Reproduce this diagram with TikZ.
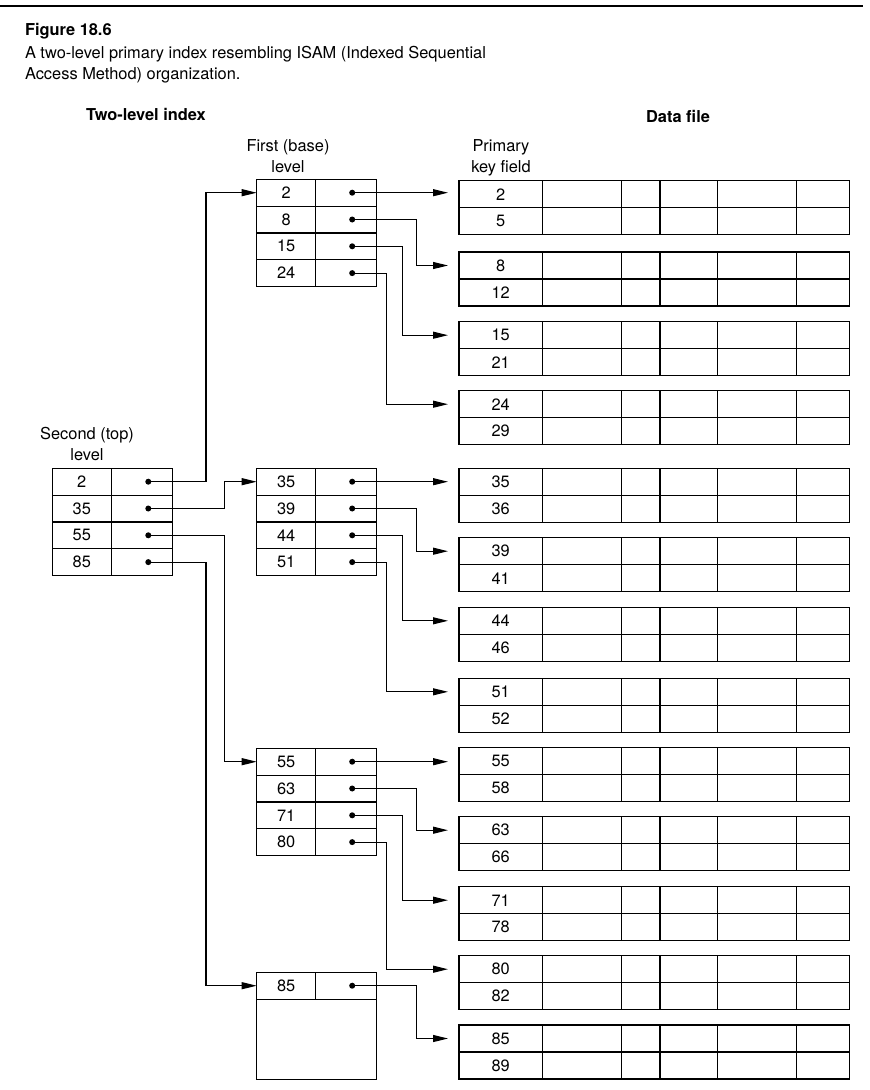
\documentclass[tikz,border=0pt]{standalone}
\usepackage{fontspec}
\setmainfont{TeX Gyre Heros}
\usetikzlibrary{arrows.meta, positioning}

\begin{document}
\begin{tikzpicture}[
    x=1pt, y=-1pt, inner sep=0pt, outer sep=0pt,
    font=\fontsize{16.4}{20.6}\selectfont,
    cell/.style={draw, line width=1.2pt, minimum height=#1},
    keycell/.style={cell=26.8pt, minimum width=59pt},
    ptrcell/.style={cell=26.8pt, minimum width=61pt},
    datakey/.style={cell=27pt, minimum width=83.3pt, anchor=north west},
    heading/.style={font=\fontsize{16.4}{20.6}\selectfont\bfseries},
    lvl/.style={align=center, anchor=base},
    ptr/.style={-{Triangle[length=15pt, width=7pt]}, line width=1.1pt},
    ptrdata/.style={ptr, shorten >=11pt}
  ]
  \useasboundingbox (0,0) rectangle (870,1090);

  \draw[line width=1.8pt] (0,6) -- (863,6);
  \node[heading, anchor=base west] (fig) at (25,35.7) {Figure 18.6};
  \node[anchor=base west, align=left] (cap) at (25,79) {A two-level primary index resembling ISAM (Indexed Sequential\\Access Method) organization.};
  \node[heading, anchor=base west] (index) at (86,120.7) {Two-level index};
  \node[heading, anchor=base] (file) at (678,122.7) {Data file};
  \node[lvl] (first) at (288,172.3) {First (base)\\level};
  \node[lvl] (primary) at (501,172.3) {Primary\\key field};
  \node[lvl] (second) at (87,460.5) {Second (top)\\level};

  % data file blocks
  \foreach \a/\b/\ytop in {2/5/180.7, 8/12/252, 15/21/321.7, 24/29/390.7, 35/36/468.3, 39/41/537.7,
      44/46/607.3, 51/52/678.3, 55/58/747.7, 63/66/816.7, 71/78/886.7, 80/82/955.7, 85/89/1025} {
    \node[datakey] (d\a) at (459,\ytop) {\a};
    \node[datakey] (d\b) at (459,\ytop+27) {\b};
    \draw[line width=1.2pt] (d\a.north west) rectangle (849.3,\ytop+54);
    \draw[line width=1.2pt] (d\a.south east) -- (849.3,\ytop+27);
    \foreach \cx in {542.3,621.7,660,717.7,796.7}
      \draw[line width=1.2pt] (\cx,\ytop) -- (\cx,\ytop+54);
  }

  % first (base) level
  \foreach \ytop/\keys in {179.3/{2,8,15,24}, 468.3/{35,39,44,51}, 748.3/{55,63,71,80}, 972.3/{85}}
    \foreach \key [count=\i from 0] in \keys {
      \node[keycell] (f\key) at (286.2,\ytop+13.4+26.8*\i) {\key};
      \node[ptrcell, right=0pt of f\key] (fp\key) {};
      \fill ([xshift=6pt]fp\key.center) coordinate (p\key) circle (3pt);
    }
  \draw[line width=1.2pt] (f85.south west) rectangle ([yshift=-80pt]fp85.south east);

  % second (top) level
  \foreach \key [count=\i from 0] in {2,35,55,85} {
    \node[keycell] (s\key) at (81.8,481.7+26.8*\i) {\key};
    \node[ptrcell, right=0pt of s\key] (sp\key) {};
    \fill ([xshift=6.5pt]sp\key.center) coordinate (q\key) circle (3pt);
  }

  \draw[ptr] (q2) -- ++(57.7,0) |- (f2.west);
  \draw[ptr] (q35) -- ++(76,0) |- (f35.west);
  \draw[ptr] (q55) -- ++(76,0) |- (f55.west);
  \draw[ptr] (q85) -- ++(57.7,0) |- (f85.west);

  \foreach \key in {2,35,55}
    \draw[ptrdata] (p\key) -- (p\key -| d\key.west);
  \foreach \key/\dx in {8/64, 15/50.3, 24/34.3, 39/64, 44/50.3, 51/34.3, 63/64, 71/50.3, 80/34.3, 85/64}
    \draw[ptrdata] (p\key) -- ++(\dx,0) |- (d\key.west);

\end{tikzpicture}
\end{document}
